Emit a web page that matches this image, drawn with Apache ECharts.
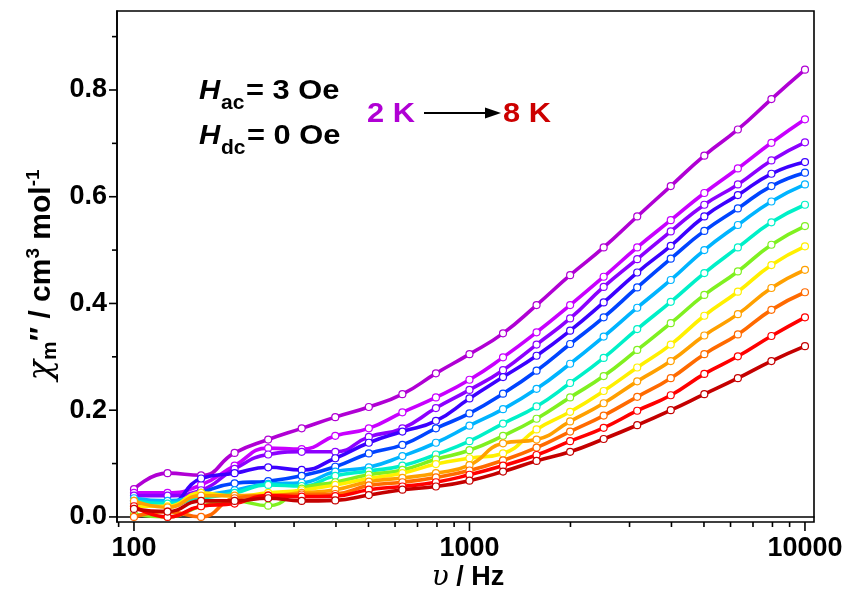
<!DOCTYPE html>
<html><head><meta charset="utf-8">
<script src="https://cdn.jsdelivr.net/npm/echarts@6/dist/echarts.min.js"></script>
<style>html,body{margin:0;padding:0;background:#fff}#c{width:851px;height:601px}</style>
</head><body><div id="c"></div>
<script>
const freqs = [100,125.9,158.5,199.5,251.2,316.2,398.1,501.2,631,794.3,1000,1258.9,1584.9,1995.3,2511.9,3162.3,3981.1,5011.9,6309.6,7943.3,10000];
const temps = ['2 K','2.5 K','3 K','3.5 K','4 K','4.5 K','5 K','5.5 K','6 K','6.5 K','7 K','7.5 K','8 K'];
const colors = ['#B000D4','#C800FF','#8C00FF','#3C00FF','#0044FF','#00B4FF','#00F0C8','#80F020','#FFF000','#FFA000','#FF6A00','#FF0000','#C40000'];
const s2K   = [0.052,0.082,0.078,0.120,0.145,0.166,0.187,0.206,0.230,0.269,0.305,0.344,0.397,0.453,0.505,0.563,0.620,0.677,0.726,0.783,0.838];
const s2_5K = [0.045,0.045,0.060,0.096,0.129,0.127,0.152,0.166,0.196,0.224,0.257,0.299,0.346,0.397,0.450,0.505,0.556,0.607,0.653,0.701,0.745];
const s3K   = [0.040,0.040,0.050,0.090,0.117,0.122,0.122,0.150,0.166,0.204,0.238,0.275,0.323,0.372,0.431,0.483,0.535,0.585,0.623,0.668,0.702];
const s3_5K = [0.030,0.025,0.072,0.082,0.093,0.088,0.110,0.139,0.160,0.180,0.222,0.262,0.302,0.349,0.402,0.458,0.508,0.563,0.603,0.643,0.665];
const s4K   = [0.025,0.020,0.045,0.063,0.067,0.077,0.094,0.119,0.135,0.166,0.194,0.231,0.274,0.324,0.374,0.430,0.484,0.536,0.578,0.620,0.645];
const s4_5K = [0.035,0.030,0.040,0.050,0.062,0.064,0.085,0.093,0.114,0.139,0.171,0.202,0.240,0.287,0.338,0.392,0.444,0.500,0.547,0.591,0.623];
const s5K   = [0.030,0.025,0.035,0.045,0.060,0.058,0.077,0.086,0.096,0.117,0.142,0.175,0.207,0.251,0.298,0.352,0.403,0.457,0.505,0.552,0.585];
const s5_5K = [0.005,0.000,0.020,0.030,0.021,0.053,0.065,0.079,0.088,0.108,0.125,0.152,0.184,0.224,0.264,0.313,0.363,0.416,0.460,0.510,0.545];
const s6K   = [0.020,0.020,0.045,0.039,0.045,0.050,0.060,0.072,0.082,0.099,0.110,0.119,0.164,0.197,0.236,0.280,0.323,0.377,0.422,0.472,0.507];
const s6_5K = [0.030,0.018,0.040,0.040,0.040,0.045,0.051,0.066,0.073,0.082,0.097,0.138,0.145,0.179,0.213,0.254,0.292,0.340,0.380,0.429,0.463];
const s7K   = [0.000,0.010,0.000,0.035,0.040,0.042,0.043,0.059,0.065,0.074,0.087,0.106,0.130,0.160,0.190,0.225,0.260,0.305,0.342,0.388,0.421];
const s7_5K = [0.020,0.000,0.020,0.025,0.040,0.038,0.039,0.051,0.057,0.065,0.079,0.096,0.116,0.142,0.167,0.199,0.228,0.268,0.301,0.339,0.374];
const s8K   = [0.015,0.010,0.030,0.030,0.035,0.030,0.031,0.041,0.051,0.057,0.068,0.085,0.105,0.122,0.146,0.172,0.200,0.230,0.260,0.292,0.320];
const seriesValues = [s2K,s2_5K,s3K,s3_5K,s4K,s4_5K,s5K,s5_5K,s6K,s6_5K,s7K,s7_5K,s8K];
const xMajorTicks = [100,1000,10000];
const xMinorTicks = [90,200,300,400,500,600,700,800,900,2000,3000,4000,5000,6000,7000,8000,9000];
const yLabelValues = [0,0.2,0.4,0.6,0.8];
const yMinorTicks = [0.1,0.3,0.5,0.7,0.9];

const X_MIN = 89, X_MAX = 10640, Y_MIN = -0.0095, Y_MAX = 0.948;
const chart = echarts.init(document.getElementById('c'), null, {renderer:'canvas'});
const FONT = 'Liberation Sans, Arial, sans-serif';

function tickSeries(vals, axis, len) {
  return {
    type: 'custom', silent: true, clip: false, z: 5,
    data: vals.map(v => [v]),
    renderItem: function (params, api) {
      const v = api.value(0);
      let p, shape;
      if (axis === 'x') {
        p = api.coord([v, Y_MIN]);
        shape = {x1: p[0], y1: p[1], x2: p[0], y2: p[1] + len};
      } else {
        p = api.coord([X_MIN, v]);
        shape = {x1: p[0], y1: p[1], x2: p[0] - len, y2: p[1]};
      }
      return {type: 'line', shape: shape, style: {stroke: '#000', lineWidth: 1.6}};
    }
  };
}

const lineSeries = seriesValues.map((vals, i) => ({
  name: temps[i], type: 'line', smooth: 0.5,
  data: freqs.map((f, j) => [f, vals[j]]),
  symbol: 'circle', symbolSize: 7, showAllSymbol: true,
  lineStyle: {color: colors[i], width: 3.6},
  itemStyle: {color: '#fff', borderColor: colors[i], borderWidth: 1.2},
  emphasis: {disabled: true}, z: 2 + i * 0.01
}));

const bigFont = 'bold 28px ' + FONT;
chart.setOption({
  animation: false,
  grid: {left: 117, right: 37, top: 11, bottom: 79, show: true, borderColor: '#000', borderWidth: 1.6, containLabel: false},
  xAxis: {
    type: 'log', min: X_MIN, max: X_MAX, logBase: 10,
    axisLine: {show: true, lineStyle: {color: '#000', width: 1.6}},
    axisTick: {show: false}, splitLine: {show: false}, minorTick: {show: false},
    axisLabel: {show: true, showMinLabel: false, showMaxLabel: false, color: '#000', fontFamily: FONT, fontWeight: 'bold', fontSize: 27, margin: 13,
      formatter: v => String(Math.round(v))}
  },
  yAxis: {
    type: 'value', min: Y_MIN, max: Y_MAX,
    axisLine: {show: true, lineStyle: {color: '#000', width: 1.6}},
    axisTick: {show: false}, splitLine: {show: false},
    axisLabel: {show: true, customValues: yLabelValues, color: '#000', fontFamily: FONT, fontWeight: 'bold', fontSize: 27, margin: 10,
      formatter: v => v.toFixed(1)}
  },
  series: [
    ...lineSeries,
    tickSeries(xMajorTicks, 'x', 9),
    tickSeries(xMinorTicks, 'x', 5),
    tickSeries(yLabelValues, 'y', 8),
    tickSeries(yMinorTicks, 'y', 5)
  ],
  graphic: [
    {type: 'text', x: 199, y: 77, scaleX: 1.05, style: {text: 'H', font: 'italic ' + bigFont, fill: '#000'}},
    {type: 'text', x: 221, y: 93, scaleX: 1.05, style: {text: 'ac', font: 'bold 20px ' + FONT, fill: '#000'}},
    {type: 'text', x: 246, y: 77, scaleX: 1.1, style: {text: '= 3 Oe', font: bigFont, fill: '#000'}},
    {type: 'text', x: 199, y: 122, scaleX: 1.05, style: {text: 'H', font: 'italic ' + bigFont, fill: '#000'}},
    {type: 'text', x: 221, y: 138, scaleX: 1.05, style: {text: 'dc', font: 'bold 20px ' + FONT, fill: '#000'}},
    {type: 'text', x: 247, y: 122, scaleX: 1.1, style: {text: '= 0 Oe', font: bigFont, fill: '#000'}},
    {type: 'text', x: 367, y: 100, scaleX: 1.1, style: {text: '2 K', font: bigFont, fill: '#B000D4'}},
    {type: 'line', shape: {x1: 424, y1: 113, x2: 490, y2: 113}, style: {stroke: '#000', lineWidth: 2}},
    {type: 'polygon', shape: {points: [[485, 107.5], [501, 113], [485, 118.5]]}, style: {fill: '#000'}},
    {type: 'text', x: 503, y: 100, scaleX: 1.1, style: {text: '8 K', font: bigFont, fill: '#CC0000'}},
    {type: 'text', x: 42, y: 275, rotation: Math.PI / 2, style: {
      text: '{c|χ}{s|m}{t|″ / cm}{p|3}{t| mol}{p|-1}', align: 'center', verticalAlign: 'middle',
      rich: {
        c: {font: 'italic 34px "DejaVu Serif", serif', fill: '#000'},
        s: {font: 'bold 21px ' + FONT, fill: '#000', padding: [16, 0, 0, 0]},
        t: {font: 'bold 30px ' + FONT, fill: '#000'},
        p: {font: 'bold 19px ' + FONT, fill: '#000', padding: [0, 0, 16, 0]}
      }}},
    {type: 'text', x: 468, y: 578, style: {
      text: '{u|υ}{t| / Hz}', align: 'center', verticalAlign: 'middle',
      rich: {
        u: {font: 'italic 28px "DejaVu Serif", serif', fill: '#000'},
        t: {font: 'bold 27px ' + FONT, fill: '#000'}
      }}}
  ]
});
</script></body></html>
